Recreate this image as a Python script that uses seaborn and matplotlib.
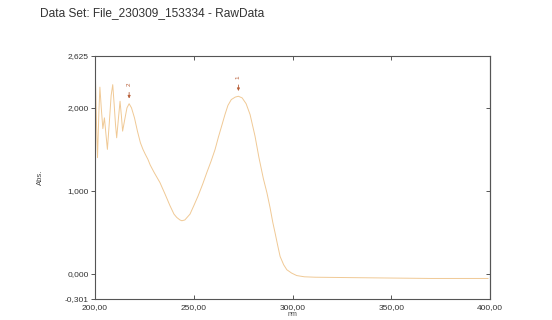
import matplotlib
matplotlib.use("Agg")
import matplotlib.pyplot as plt
import matplotlib.ticker as mticker
import seaborn as sns
import pandas as pd

wavelength = [200.0, 200.3, 200.8, 201.3, 202.0, 202.5, 203.2, 204.0, 204.8, 205.5,
              206.3, 207.2, 208.2, 209.0, 209.7, 210.4, 211.0, 211.8, 212.7, 213.4,
              214.0, 215.0, 216.2, 217.3, 218.5, 220.0, 221.5, 223.0, 224.3, 225.5,
              226.8, 228.0, 230.0, 232.9, 235.5, 238.0, 240.0, 241.4, 243.0, 244.0,
              245.5, 248.1, 250.0, 252.2, 254.5, 256.6, 258.8, 260.8, 262.5, 264.1,
              265.8, 267.3, 269.0, 271.0, 272.6, 274.5, 276.5, 278.5, 281.0, 283.0,
              285.2, 287.0, 288.6, 290.0, 291.1, 292.5, 293.7, 295.5, 297.1, 299.5,
              302.1, 306.0, 311.4, 330.0, 350.0, 370.0, 390.0, 399.0]
absorbance = [2.20, 2.32, 1.80, 1.40, 1.95, 2.25, 2.00, 1.75, 1.88, 1.70,
              1.50, 1.80, 2.15, 2.28, 2.05, 1.80, 1.64, 1.85, 2.08, 1.90,
              1.72, 1.85, 2.00, 2.05, 2.00, 1.88, 1.72, 1.58, 1.50, 1.44,
              1.38, 1.31, 1.22, 1.10, 0.96, 0.82, 0.72, 0.68, 0.65, 0.64,
              0.65, 0.72, 0.82, 0.94, 1.08, 1.22, 1.36, 1.50, 1.65, 1.78,
              1.92, 2.03, 2.10, 2.13, 2.14, 2.12, 2.05, 1.92, 1.66, 1.40,
              1.15, 0.98, 0.80, 0.62, 0.50, 0.34, 0.21, 0.11, 0.05, 0.01,
              -0.02, -0.035, -0.04, -0.045, -0.05, -0.055, -0.055, -0.055]

peak_labels = ["1", "2"]
peak_wl = [272.6, 217.3]
peak_abs = [2.14, 2.05]

x_ticks = [200, 250, 300, 350, 400]
y_ticks = [-0.301, 0.0, 1.0, 2.0, 2.625]

sns.set_theme(style="ticks")
plt.rcParams['font.family'] = ['Liberation Sans', 'DejaVu Sans']

df = pd.DataFrame({"nm": wavelength, "Abs.": absorbance})

fig = plt.figure(figsize=(5.52, 3.2), dpi=100)
ax = fig.add_axes([0.172, 0.066, 0.716, 0.759])
sns.lineplot(data=df, x="nm", y="Abs.", ax=ax, color="#f0c995", linewidth=0.7)

ax.set_xlim(200, 400)
ax.set_ylim(-0.301, 2.625)
ax.set_xticks(x_ticks)
ax.set_yticks(y_ticks)
ax.xaxis.set_major_formatter(mticker.FuncFormatter(lambda v, p: f"{v:.2f}".replace(".", ",")))
ax.yaxis.set_major_formatter(mticker.FuncFormatter(lambda v, p: f"{v:.3f}".replace(".", ",")))

spine_col = "#555555"
for s in ax.spines.values():
    s.set_color(spine_col)
    s.set_linewidth(0.8)
    s.set_visible(True)

ax.tick_params(axis='x', direction='in', top=True, length=3, width=0.7,
               colors=spine_col, labelsize=6, labelcolor="#333333", pad=4)
ax.tick_params(axis='y', direction='out', length=3, width=0.7,
               colors=spine_col, labelsize=6, labelcolor="#333333", pad=1.5)
sec = ax.secondary_yaxis('right')
sec.set_yticks([0.0, 1.0, 2.0])
sec.tick_params(direction='in', length=3, width=0.7, colors=spine_col, labelright=False)
sec.spines['right'].set_color(spine_col)
sec.spines['right'].set_linewidth(0.8)

ax.set_xlabel("nm", fontsize=5, color="#444444", labelpad=0)
ax.set_ylabel("Abs.", fontsize=5.5, color="#444444", labelpad=15)

mark_col = "#b8603a"
for lab, xw, ya in zip(peak_labels, peak_wl, peak_abs):
    ax.annotate("", xy=(xw, ya + 0.03), xytext=(xw, ya + 0.17),
                arrowprops=dict(arrowstyle="-|>", color=mark_col, lw=0.6,
                                mutation_scale=4))
    ax.text(xw, ya + 0.21, lab, rotation=90, fontsize=4.5, color=mark_col,
            ha="center", va="bottom")

fig.text(0.072, 0.958, "Data Set: File_230309_153334 - RawData", fontsize=8.6,
         color="#333333", ha="left", va="center")

fig.savefig("out.png", dpi=100)
